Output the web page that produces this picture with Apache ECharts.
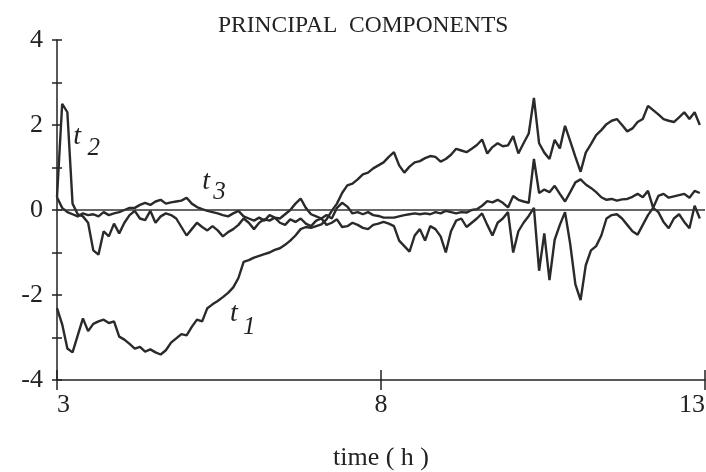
<!DOCTYPE html>
<html>
<head>
<meta charset="utf-8">
<script src="https://cdn.jsdelivr.net/npm/echarts@6/dist/echarts.min.js"></script>
<style>
  html, body { margin: 0; padding: 0; background: #fff; }
  #chart { width: 706px; height: 472px; }
</style>
</head>
<body>
<div id="chart"></div>
<script>
// Sampling times (hours)
const hours = [3,3.08,3.16,3.24,3.32,3.4,3.48,3.56,3.64,3.72,3.8,3.88,3.96,4.04,4.12,4.2,4.28,4.36,4.44,4.52,
  4.6,4.68,4.76,4.84,4.92,5,5.08,5.16,5.24,5.32,5.4,5.48,5.56,5.64,5.72,5.8,5.88,5.96,6.04,6.12,
  6.2,6.28,6.36,6.44,6.52,6.6,6.68,6.76,6.84,6.92,7,7.08,7.16,7.24,7.32,7.4,7.48,7.56,7.64,7.72,
  7.8,7.88,7.96,8.04,8.12,8.2,8.28,8.36,8.44,8.52,8.6,8.68,8.76,8.84,8.92,9,9.08,9.16,9.24,9.32,
  9.4,9.48,9.56,9.64,9.72,9.8,9.88,9.96,10.04,10.12,10.2,10.28,10.36,10.44,10.52,10.6,10.68,10.76,10.84,10.92,
  11,11.08,11.16,11.24,11.32,11.4,11.48,11.56,11.64,11.72,11.8,11.88,11.96,12.04,12.12,12.2,12.28,12.36,12.44,12.52,
  12.6,12.68,12.76,12.84,12.92];

// First principal component score
const t1 = [-2.31,-2.69,-3.26,-3.35,-2.95,-2.55,-2.85,-2.68,-2.62,-2.58,
  -2.66,-2.62,-2.98,-3.05,-3.15,-3.26,-3.22,-3.33,-3.28,-3.35,
  -3.4,-3.3,-3.12,-3.02,-2.92,-2.95,-2.75,-2.58,-2.62,-2.31,
  -2.22,-2.14,-2.05,-1.95,-1.82,-1.6,-1.22,-1.18,-1.12,-1.08,
  -1.04,-1.0,-0.94,-0.9,-0.82,-0.72,-0.6,-0.45,-0.4,-0.42,
  -0.38,-0.34,-0.22,-0.02,0.15,0.4,0.58,0.62,0.72,0.84,
  0.88,0.98,1.05,1.12,1.25,1.36,1.05,0.88,1.02,1.12,
  1.15,1.22,1.27,1.25,1.14,1.2,1.3,1.44,1.4,1.36,
  1.44,1.53,1.66,1.33,1.48,1.57,1.5,1.52,1.74,1.33,
  1.57,1.8,2.64,1.57,1.35,1.2,1.65,1.45,1.98,1.62,
  1.25,0.9,1.35,1.55,1.76,1.88,2.02,2.1,2.14,2.0,
  1.85,1.92,2.07,2.14,2.45,2.35,2.25,2.14,2.1,2.07,
  2.18,2.3,2.14,2.3,2.0];

// Second principal component score
const t2 = [0.3,2.5,2.3,0.15,-0.1,-0.15,-0.3,-0.95,-1.05,-0.5,
  -0.62,-0.32,-0.55,-0.3,-0.12,-0.02,-0.2,-0.24,-0.02,-0.3,
  -0.15,-0.08,-0.12,-0.2,-0.4,-0.6,-0.45,-0.3,-0.4,-0.48,
  -0.38,-0.48,-0.62,-0.52,-0.45,-0.35,-0.2,-0.3,-0.45,-0.3,
  -0.22,-0.25,-0.18,-0.3,-0.35,-0.22,-0.28,-0.2,-0.32,-0.38,
  -0.25,-0.2,-0.35,-0.3,-0.22,-0.4,-0.38,-0.3,-0.35,-0.42,
  -0.45,-0.35,-0.32,-0.28,-0.32,-0.38,-0.72,-0.85,-0.98,-0.6,
  -0.45,-0.72,-0.38,-0.45,-0.62,-1.0,-0.5,-0.25,-0.2,-0.4,
  -0.3,-0.2,-0.08,-0.35,-0.6,-0.3,-0.2,-0.05,-1.0,-0.5,
  -0.3,-0.14,0.05,-1.43,-0.55,-1.65,-0.7,-0.35,-0.05,-0.8,
  -1.75,-2.12,-1.3,-0.95,-0.85,-0.6,-0.2,-0.12,-0.1,-0.2,
  -0.35,-0.5,-0.58,-0.35,-0.12,0.05,-0.05,-0.28,-0.43,-0.2,
  -0.1,-0.28,-0.43,0.1,-0.2];

// Third principal component score
const t3 = [0.3,0.05,-0.05,-0.1,-0.15,-0.08,-0.12,-0.1,-0.15,-0.05,
  -0.12,-0.08,-0.05,0.0,0.05,0.05,0.12,0.17,0.12,0.2,
  0.24,0.15,0.18,0.2,0.22,0.29,0.15,0.07,0.02,-0.02,
  -0.05,-0.08,-0.12,-0.15,-0.08,-0.02,-0.15,-0.2,-0.25,-0.18,
  -0.25,-0.12,-0.18,-0.2,-0.1,0.0,0.15,0.27,0.05,-0.1,
  -0.15,-0.2,-0.12,-0.2,0.05,0.17,0.08,-0.08,-0.05,-0.1,
  -0.05,-0.12,-0.14,-0.18,-0.18,-0.18,-0.15,-0.12,-0.1,-0.08,
  -0.1,-0.08,-0.1,-0.05,-0.08,-0.02,-0.05,-0.08,-0.05,-0.06,
  0.0,0.02,0.1,0.21,0.18,0.24,0.17,0.06,0.33,0.24,
  0.2,0.17,1.2,0.4,0.48,0.42,0.57,0.38,0.2,0.42,
  0.65,0.72,0.6,0.52,0.42,0.3,0.24,0.26,0.22,0.25,
  0.26,0.31,0.38,0.3,0.45,0.05,0.33,0.38,0.29,0.32,
  0.35,0.38,0.29,0.45,0.4];

// Curve annotations: italic letter plus subscript, anchored in data coordinates
const curveNotes = [
  { text: 't', at: [3.25, 1.73], size: 28 },
  { text: '2', at: [3.47, 1.45], size: 25 },
  { text: 't', at: [5.24, 0.66], size: 28 },
  { text: '3', at: [5.41, 0.42], size: 25 },
  { text: 't', at: [5.67, -2.44], size: 28 },
  { text: '1', at: [5.87, -2.76], size: 25 }
];

const SERIF = '"Liberation Serif", "Times New Roman", serif';
const INK = '#2a2a2a';

const chart = echarts.init(document.getElementById('chart'), null, { renderer: 'canvas' });

function pcSeries(name, values, withZero) {
  const s = {
    name: name,
    type: 'line',
    xAxisIndex: 0,
    yAxisIndex: 0,
    showSymbol: false,
    symbol: 'none',
    data: hours.map((h, i) => [h, values[i]]),
    lineStyle: { color: INK, width: 2.4 },
    z: 3
  };
  if (withZero) {
    s.markLine = {
      silent: true,
      symbol: ['none', 'none'],
      label: { show: false },
      lineStyle: { color: '#333', width: 1.5, type: 'solid' },
      data: [{ yAxis: 0 }]
    };
  }
  return s;
}

const axisLineStyle = { color: '#222', width: 1.5 };

chart.setOption({
  backgroundColor: '#fff',
  animation: false,
  title: {
    text: 'PRINCIPAL  COMPONENTS',
    left: 213,
    top: 9,
    textStyle: { fontFamily: SERIF, fontSize: 23.5, fontWeight: 'normal', color: '#222' }
  },
  grid: { left: 57, right: 1, top: 40, bottom: 92, outerBoundsMode: 'none', containLabel: false },
  xAxis: [
    {
      type: 'value', min: 3, max: 13, interval: 5,
      axisLine: { onZero: false, lineStyle: axisLineStyle },
      axisTick: { show: true, length: 10, lineStyle: axisLineStyle },
      axisLabel: {
        fontFamily: SERIF, fontSize: 26, color: '#222', margin: 12,
        alignMinLabel: 'left', alignMaxLabel: 'right'
      },
      splitLine: { show: false },
      name: 'time ( h )', nameLocation: 'middle', nameGap: 65,
      nameTextStyle: { fontFamily: SERIF, fontSize: 26, color: '#222' }
    },
    {
      type: 'value', min: 3, max: 13, interval: 5, position: 'bottom',
      axisLine: { show: false, onZero: false },
      axisTick: { show: true, inside: true, length: 10, lineStyle: axisLineStyle },
      axisLabel: { show: false },
      splitLine: { show: false }
    }
  ],
  yAxis: [
    {
      type: 'value', min: -4, max: 4, interval: 1,
      axisLine: { show: true, onZero: false, lineStyle: axisLineStyle },
      axisTick: { show: true, length: 5, lineStyle: axisLineStyle },
      axisLabel: {
        fontFamily: SERIF, fontSize: 26, color: '#222', margin: 14,
        formatter: v => (v % 2 === 0 ? String(v) : '')
      },
      splitLine: { show: false }
    },
    {
      type: 'value', min: -4, max: 4, interval: 1, position: 'left',
      axisLine: { show: false, onZero: false },
      axisTick: { show: true, inside: true, length: 5, lineStyle: axisLineStyle },
      axisLabel: { show: false },
      splitLine: { show: false }
    }
  ],
  series: [
    pcSeries('t1', t1, true),
    pcSeries('t2', t2, false),
    pcSeries('t3', t3, false)
  ]
});

chart.setOption({
  graphic: curveNotes.map(n => {
    const p = chart.convertToPixel({ xAxisIndex: 0, yAxisIndex: 0 }, n.at);
    return {
      type: 'text',
      x: p[0],
      y: p[1],
      silent: true,
      style: {
        text: n.text,
        fontFamily: SERIF,
        fontSize: n.size,
        fontStyle: 'italic',
        fill: '#222',
        textAlign: 'left',
        textVerticalAlign: 'middle'
      }
    };
  })
});
</script>
</body>
</html>
